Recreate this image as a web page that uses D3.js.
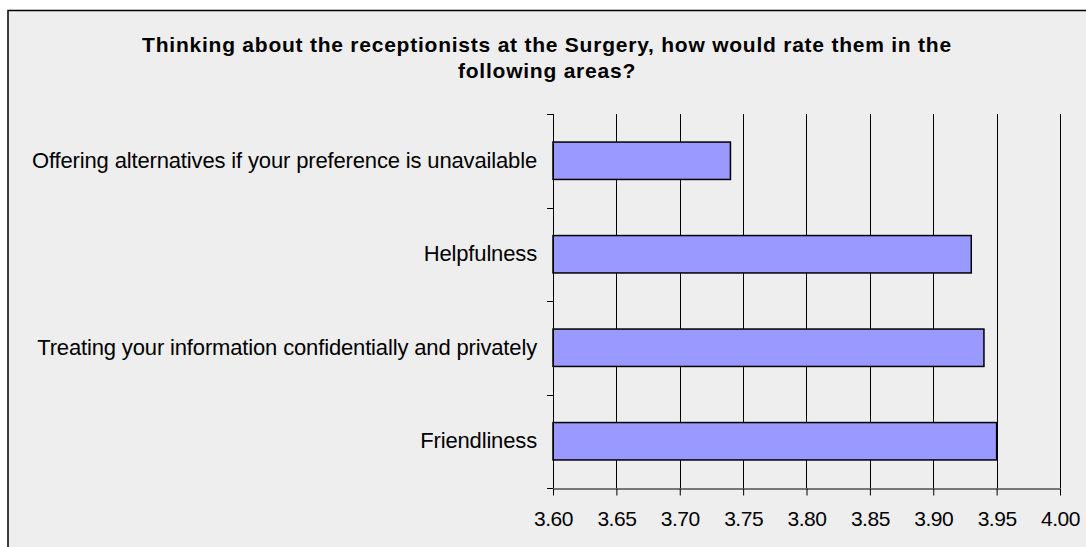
<!DOCTYPE html>
<html>
<head>
<meta charset="utf-8">
<script src="https://cdn.jsdelivr.net/npm/d3@7"></script>
<style>
  html, body { margin: 0; padding: 0; background: #ffffff; }
  svg { display: block; }
  text { font-family: "Liberation Sans", Arial, sans-serif; fill: #000; }
</style>
</head>
<body>
<svg id="chart" width="1086" height="547"></svg>
<script>
// Survey ratings for the reception team (mean score per area)
const categories = [
  "Offering alternatives if your preference is unavailable",
  "Helpfulness",
  "Treating your information confidentially and privately",
  "Friendliness"
];
const scores = [3.74, 3.93, 3.94, 3.95];
const tickValues = [3.60, 3.65, 3.70, 3.75, 3.80, 3.85, 3.90, 3.95, 4.00];
const titleLines = [
  "Thinking about the receptionists at the Surgery, how would rate them in the",
  "following areas?"
];

const svg = d3.select("#chart");
const W = 1086, H = 547;

// chart area panel
svg.append("rect")
  .attr("x", 8).attr("y", 10.5)
  .attr("width", W).attr("height", H)
  .attr("fill", "#eeeeee")
  .attr("stroke", "#000")
  .attr("stroke-width", 1.5);

// title: tracked bold heading, two centred lines
const titleWidth = 809;
const title = svg.append("g")
  .attr("font-weight", "bold")
  .attr("font-size", 21);
const titleText = title.selectAll("text")
  .data(titleLines)
  .join("text")
  .attr("text-anchor", "middle")
  .attr("x", 547)
  .attr("y", (d, i) => 52 + i * 26)
  .text(d => d);
const firstLine = titleText.nodes()[0];
const tracking = (titleWidth - firstLine.getComputedTextLength()) / (titleLines[0].length - 1);
titleText.attr("letter-spacing", tracking);

const plot = { left: 553, right: 1060, top: 114, bottom: 488 };

const x = d3.scaleLinear()
  .domain([3.60, 4.00])
  .range([plot.left, plot.right]);

const y = d3.scaleBand()
  .domain(categories)
  .range([plot.top, plot.bottom])
  .paddingInner(0.6)
  .paddingOuter(0.3);

// vertical gridlines
svg.append("g")
  .selectAll("line")
  .data(tickValues.slice(1))
  .join("line")
  .attr("x1", d => Math.round(x(d)) + 0.5)
  .attr("x2", d => Math.round(x(d)) + 0.5)
  .attr("y1", plot.top)
  .attr("y2", plot.bottom)
  .attr("stroke", "#000")
  .attr("stroke-width", 1);

// bars
svg.append("g")
  .selectAll("rect")
  .data(categories)
  .join("rect")
  .attr("x", x(3.60))
  .attr("y", d => y(d))
  .attr("width", (d, i) => x(scores[i]) - x(3.60))
  .attr("height", y.bandwidth())
  .attr("fill", "#9999ff")
  .attr("stroke", "#000")
  .attr("stroke-width", 1.5);

// x axis
const xAxis = svg.append("g")
  .attr("transform", `translate(0,${plot.bottom + 0.5})`)
  .call(d3.axisBottom(x)
    .tickValues(tickValues)
    .tickFormat(d3.format(".2f"))
    .tickSize(7)
    .tickPadding(16)
    .tickSizeOuter(0));
xAxis.select(".domain").attr("stroke", "#000");
xAxis.selectAll(".tick line").attr("stroke", "#000");
xAxis.selectAll(".tick text")
  .attr("font-family", "\"Liberation Sans\", Arial, sans-serif")
  .attr("font-size", 21)
  .attr("letter-spacing", -0.5)
  .attr("fill", "#000");

// y axis: category tick marks sit between the bands
const yBoundaries = d3.range(categories.length + 1)
  .map(i => plot.top + i * (plot.bottom - plot.top) / categories.length);
const yAxisG = svg.append("g");
yAxisG.append("line")
  .attr("x1", plot.left + 0.5).attr("x2", plot.left + 0.5)
  .attr("y1", plot.top).attr("y2", plot.bottom)
  .attr("stroke", "#000");
yAxisG.selectAll("line.tk")
  .data(yBoundaries)
  .join("line")
  .attr("class", "tk")
  .attr("x1", plot.left - 6).attr("x2", plot.left)
  .attr("y1", d => Math.round(d) + 0.5)
  .attr("y2", d => Math.round(d) + 0.5)
  .attr("stroke", "#000");

// category labels
svg.append("g")
  .selectAll("text")
  .data(categories)
  .join("text")
  .attr("x", 537)
  .attr("y", d => y(d) + y.bandwidth() / 2 + 7)
  .attr("text-anchor", "end")
  .attr("font-size", 22)
  .attr("letter-spacing", -0.15)
  .text(d => d);
</script>
</body>
</html>
